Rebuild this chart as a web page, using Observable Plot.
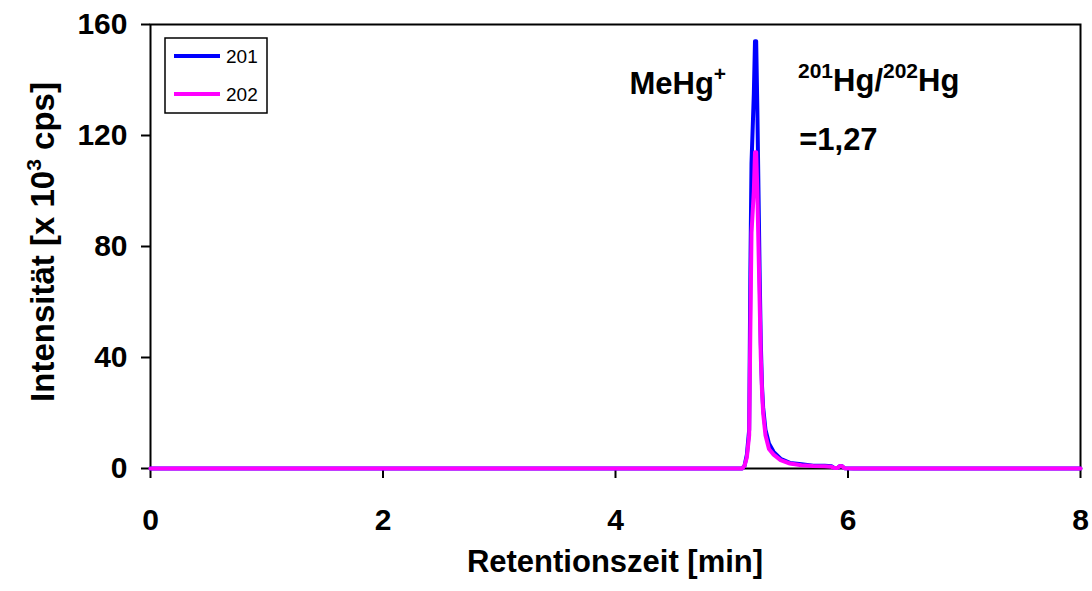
<!DOCTYPE html>
<html><head><meta charset="utf-8">
<script src="https://cdn.jsdelivr.net/npm/d3@7"></script>
<script src="https://cdn.jsdelivr.net/npm/@observablehq/plot@0.6"></script>
<style>html,body{margin:0;padding:0;background:#fff;} #chart{width:1092px;height:591px;}</style>
</head><body><div id="chart"></div>
<script>
// Retention time [min]
const times = [0, 1, 2, 3, 4, 5, 5.09, 5.11, 5.13, 5.15, 5.16, 5.17, 5.19, 5.20, 5.21, 5.22, 5.23, 5.24, 5.25, 5.26, 5.27, 5.29, 5.32, 5.36, 5.42, 5.50, 5.60, 5.70, 5.80, 5.86, 5.88, 5.91, 5.93, 5.95, 5.97, 6.05, 7, 8];
// Intensity [x 10^3 cps]
const int201 = [0, 0, 0, 0, 0, 0, 0, 1, 5, 14, 70, 110, 135, 154, 154, 130, 100, 70, 45, 30, 22, 14, 9, 6, 3.5, 2, 1.5, 1, 1, 0.8, 0.2, 0.2, 0.9, 0.8, 0.1, 0, 0, 0];
const int202 = [0, 0, 0, 0, 0, 0, 0, 1, 4, 12, 50, 85, 100, 114, 114, 100, 80, 60, 40, 28, 20, 12, 7, 5, 3, 1.8, 1.2, 0.9, 0.8, 0.6, 0.2, 0.2, 0.9, 0.8, 0.1, 0, 0, 0];
const seriesNames = ["201", "202"];
const seriesColors = ["#0000ff", "#ff00ff"];
const xTicks = [0, 2, 4, 6, 8];
const yTicks = [0, 40, 80, 120, 160];
const xLabel = "Retentionszeit [min]";
const yLabel = "Intensität [x 10{3} cps]";
const annotText = ["MeHg{+}", "{201}Hg/{202}Hg", "=1,27"];
const annotX = [4.12, 5.57, 5.58];
const annotY = [135, 136.2, 114.6];

const data = [];
[int201, int202].forEach((arr, k) => times.forEach((t, i) => data.push({t, v: arr[i], s: seriesNames[k]})));
const annotations = annotText.map((text, i) => ({text, x: annotX[i], y: annotY[i]}));

const FONT = "'Liberation Sans', Arial, sans-serif";
const plot = Plot.plot({
  width: 1092, height: 591,
  marginLeft: 150, marginRight: 12, marginTop: 24, marginBottom: 123,
  style: {fontFamily: FONT, fontSize: "30px", fontWeight: "bold", background: "white", color: "black", overflow: "visible"},
  x: {domain: [0, 8]},
  y: {domain: [0, 160]},
  color: {domain: seriesNames, range: seriesColors},
  marks: [
    Plot.frame({stroke: "black", strokeWidth: 2}),
    Plot.axisX({ticks: xTicks, tickSize: 10, tickPadding: 30, strokeWidth: 2, label: null, tickFormat: d => String(d)}),
    Plot.axisY({ticks: yTicks, tickSize: 9, tickPadding: 14, strokeWidth: 2, label: null, tickFormat: d => String(d)}),
    Plot.line(data, {x: "t", y: "v", z: "s", stroke: "s", strokeWidth: 4, strokeLinejoin: "round"}),
    Plot.text(annotations, {x: "x", y: "y", text: "text", textAnchor: "start", lineAnchor: "bottom", fontSize: 31})
  ]
});
document.getElementById("chart").appendChild(plot);

const svg = d3.select(plot);
const xr = plot.scale("x").range, yr = plot.scale("y").range;
const cx = (xr[0] + xr[1]) / 2, cy = (yr[0] + yr[1]) / 2;

svg.append("text").attr("x", cx).attr("y", 572).attr("text-anchor", "middle")
  .attr("font-size", 31).attr("font-weight", "bold").attr("fill", "black").text(xLabel);
svg.append("text").attr("transform", `translate(54,${cy - 4}) rotate(-90)`).attr("text-anchor", "middle")
  .attr("font-size", 33).attr("font-weight", "bold").attr("fill", "black").text(yLabel);

function supify(el, supSize, shift) {
  const s = el.textContent;
  if (!s.includes("{")) return;
  const sel = d3.select(el);
  sel.text(null);
  let prevSup = false;
  s.split(/(\{[^}]*\})/).filter(p => p.length).forEach(p => {
    if (p.startsWith("{")) {
      sel.append("tspan").attr("font-size", supSize).attr("dy", -shift).text(p.slice(1, -1));
      prevSup = true;
    } else {
      const t = sel.append("tspan").text(p);
      if (prevSup) t.attr("dy", shift);
      prevSup = false;
    }
  });
}
svg.selectAll("text").each(function() { supify(this, 21, 13); });

// legend
const lx = xr[0] + 15, ly = yr[1] + 14;
const lg = svg.append("g").attr("text-anchor", "start");
lg.append("rect").attr("x", lx).attr("y", ly).attr("width", 102).attr("height", 75)
  .attr("fill", "white").attr("stroke", "black").attr("stroke-width", 1.5);
seriesNames.forEach((name, i) => {
  const yy = ly + 18 + i * 38;
  lg.append("line").attr("x1", lx + 9).attr("x2", lx + 55).attr("y1", yy).attr("y2", yy)
    .attr("stroke", seriesColors[i]).attr("stroke-width", 4);
  lg.append("text").attr("x", lx + 61).attr("y", yy + 7).attr("font-size", 19)
    .attr("text-anchor", "start").attr("font-weight", "normal").attr("fill", "black").text(name);
});
</script></body></html>
